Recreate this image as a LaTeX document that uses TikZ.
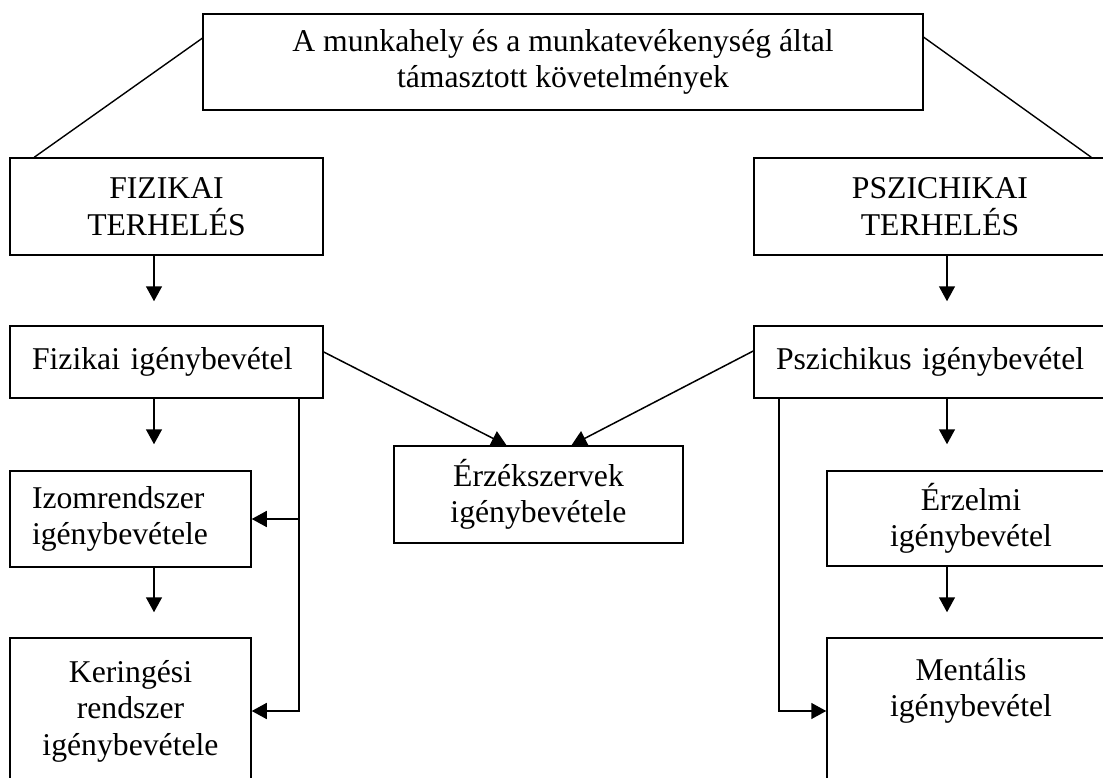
\documentclass[tikz,border=0pt]{standalone}
\usepackage{fontspec}
\setmainfont{Liberation Serif}
\usetikzlibrary{arrows.meta,calc}
\begin{document}
\begin{tikzpicture}[x=1pt,y=-1pt,
  box/.style={draw, line width=1.5pt, inner sep=0pt, align=center,
    font=\fontsize{31.7pt}{36.5pt}\selectfont},
  lbox/.style={box, align=left, inner xsep=22pt},
  arr/.style={line width=1.5pt, -{Triangle[length=15pt,width=16pt]}},
  conn/.style={line width=1.4pt}]
\useasboundingbox (0,0) rectangle (1103,778);
\clip (0,0) rectangle (1103,778);
\node[box, minimum width=720pt, minimum height=96pt] (top) at (563,62)
  {A munkahely és a munkatevékenység által\\támasztott követelmények};
\node[box, minimum width=313pt, minimum height=97pt] (fiz) at (166.5,206.5) {FIZIKAI\\TERHELÉS};
\node[box, minimum width=372pt, minimum height=97pt] (psz) at (940,206.5) {PSZICHIKAI\\TERHELÉS};
\node[lbox, text width=269pt, minimum height=72pt] (fizi) at (166.5,362) {Fizikai igénybevétel};
\node[lbox, text width=328pt, minimum height=72pt] (pszi) at (940,362) {Pszichikus igénybevétel};
\node[lbox, text width=197pt, minimum height=96pt] (izom) at (130.5,519) {Izomrendszer\\igénybevétele};
\node[box, minimum width=289pt, minimum height=97pt] (erzek) at (538.5,494.5) {Érzékszervek\\igénybevétele};
\node[box, minimum width=288pt, minimum height=95pt] (erzelmi) at (971,518.5) {Érzelmi\\igénybevétel};
\node[box, minimum width=241pt, minimum height=146pt] (kering) at (130.5,711) {Keringési\\rendszer\\igénybevétele};
\node[box, minimum width=288pt, minimum height=146pt] (mental) at (971,711) {Mentális\\igénybevétel\\\strut};
\coordinate (cL) at (154,0);
\coordinate (cR) at (947,0);
\coordinate (vL) at (299,0);
\coordinate (vR) at (779,0);
\draw[conn] ([yshift=-25pt]top.north west) -- ([xshift=25pt]fiz.north west);
\draw[conn] ([yshift=-24pt]top.north east) -- ([xshift=338pt]psz.north west);
\draw[arr] (fiz.south -| cL) -- ($(fizi.north -| cL)+(0,-24)$);
\draw[arr] (fizi.south -| cL) -- ($(izom.north -| cL)+(0,-26)$);
\draw[arr] (izom.south -| cL) -- ($(kering.north -| cL)+(0,-25)$);
\draw[arr] (psz.south -| cR) -- ($(pszi.north -| cR)+(0,-24)$);
\draw[arr] (pszi.south -| cR) -- ($(erzelmi.north -| cR)+(0,-26)$);
\draw[arr] (erzelmi.south -| cR) -- ($(mental.north -| cR)+(0,-25)$);
\draw[arr] (fizi.south -| vL) |- (izom.east);
\draw[arr] (fizi.south -| vL) |- (kering.east);
\draw[arr] (pszi.south -| vR) |- (mental.west);
\draw[arr] ([yshift=10pt]fizi.east) -- ($(erzek.north)+(-32,0)$);
\draw[arr] ([yshift=11pt]pszi.west) -- ($(erzek.north)+(33,0)$);
\end{tikzpicture}
\end{document}
